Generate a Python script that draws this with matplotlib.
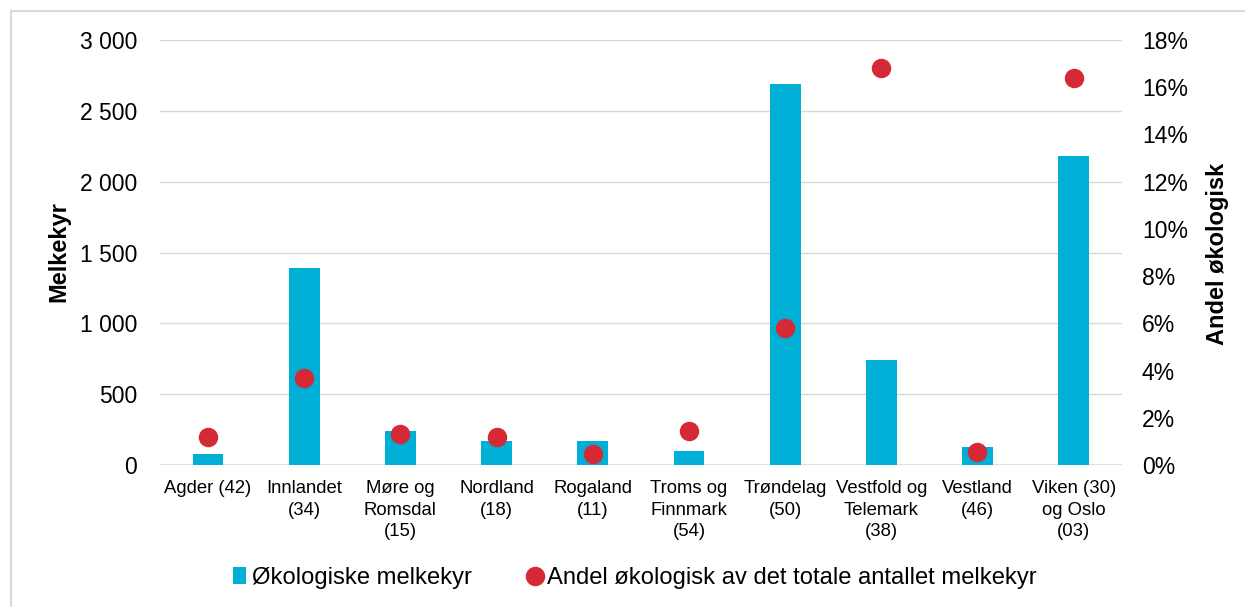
import matplotlib
matplotlib.use("Agg")
import matplotlib.pyplot as plt
from matplotlib.lines import Line2D
from matplotlib.ticker import FuncFormatter

plt.rcParams["font.family"] = ["Liberation Sans", "DejaVu Sans"]

# ==========================================================
# Data
# ==========================================================

regions = [
    "Agder (42)",
    "Innlandet\n(34)",
    "Møre og\nRomsdal\n(15)",
    "Nordland\n(18)",
    "Rogaland\n(11)",
    "Troms og\nFinnmark\n(54)",
    "Trøndelag\n(50)",
    "Vestfold og\nTelemark\n(38)",
    "Vestland\n(46)",
    "Viken (30)\nog Oslo\n(03)",
]

organic_cows = [80, 1390, 240, 170, 170, 100, 2690, 740, 127, 2180]

organic_share = [1.2, 3.7, 1.3, 1.2, 0.47, 1.45, 5.8, 16.8, 0.55, 16.4]

BAR_COLOR = "#00AFD6"
DOT_COLOR = "#D52A35"
GRID_COLOR = "#D9D9D9"

# ==========================================================
# Figure
# ==========================================================

fig = plt.figure(figsize=(12.45, 6.07), dpi=100)
ax = fig.add_axes([0.1285, 0.234, 0.7725, 0.700])
ax2 = ax.twinx()

x = list(range(len(regions)))

ax.bar(x, organic_cows, width=0.32, color=BAR_COLOR, zorder=2,
       label="Økologiske melkekyr")

ax2.plot(x, organic_share, linestyle="none", marker="o", markersize=13,
         color=DOT_COLOR, zorder=3,
         label="Andel økologisk av det totale antallet melkekyr")

ax.set_xlim(-0.5, len(regions) - 0.5)
ax.set_ylim(0, 3000)
ax.set_yticks(range(0, 3001, 500))
ax.yaxis.set_major_formatter(
    FuncFormatter(lambda v, p: f"{int(v):,}".replace(",", " "))
)

ax2.set_ylim(0, 18)
ax2.set_yticks(range(0, 19, 2))
ax2.yaxis.set_major_formatter(FuncFormatter(lambda v, p: f"{int(v)}%"))

ax.set_xticks(x)
ax.set_xticklabels(regions, fontsize=13.3, linespacing=1.35)

ax.grid(axis="y", color=GRID_COLOR, linewidth=1.0, zorder=0)
ax.set_axisbelow(True)

for a in (ax, ax2):
    for side in ("top", "left", "right", "bottom"):
        a.spines[side].set_visible(False)
    a.tick_params(length=0)

ax.axhline(0, color=GRID_COLOR, linewidth=1.8, zorder=1)

ax.tick_params(axis="y", labelsize=16.5, pad=16.5)
ax.tick_params(axis="x", pad=11)
ax2.tick_params(axis="y", labelsize=16.5, pad=14.5)

ax2.set_zorder(ax.get_zorder() + 1)
ax2.patch.set_visible(False)

fig.text(0.047, 0.585, "Melkekyr", rotation=90, ha="center", va="center",
         fontsize=17, fontweight="bold")
fig.text(0.978, 0.582, "Andel økologisk", rotation=90, ha="center",
         va="center", fontsize=17, fontweight="bold")

# legend
h1, l1 = ax.get_legend_handles_labels()
h2, l2 = ax2.get_legend_handles_labels()
fig.legend(
    h1 + h2, l1 + l2,
    loc="center",
    bbox_to_anchor=(0.510, 0.048),
    ncol=2,
    frameon=False,
    fontsize=17.1,
    handlelength=0.55,
    handletextpad=0.25,
    columnspacing=2.35,
)

# outer frame (left and top edges visible)
fig.add_artist(Line2D([0.0085, 0.0085], [0, 0.982], color=GRID_COLOR,
                      linewidth=1.5, transform=fig.transFigure))
fig.add_artist(Line2D([0.0085, 1.0], [0.982, 0.982], color=GRID_COLOR,
                      linewidth=1.5, transform=fig.transFigure))

fig.savefig("out.png", dpi=100)
